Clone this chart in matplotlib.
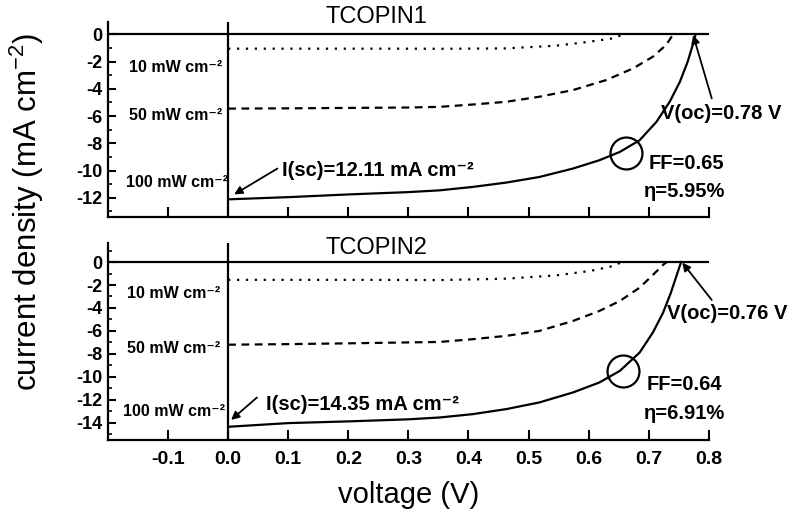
import matplotlib
matplotlib.use('Agg')
import matplotlib.pyplot as plt
import numpy as np

plt.rcParams['font.family'] = ['Liberation Sans', 'DejaVu Sans']
plt.rcParams['mathtext.fontset'] = 'custom'
plt.rcParams['mathtext.rm'] = 'Liberation Sans'
plt.rcParams['mathtext.bf'] = 'Liberation Sans:bold'
plt.rcParams['mathtext.default'] = 'regular'

# TCOPIN1 J-V curves (V in volts, J in mA cm^-2)
v1_10 = [0.0, 0.1, 0.2, 0.3, 0.352, 0.463, 0.546, 0.602, 0.641, 0.657]
j1_10 = [-1.05, -1.05, -1.05, -1.05, -1.06, -1.03, -0.83, -0.54, -0.29, -0.02]
v1_50 = [0.0, 0.1, 0.2, 0.3, 0.352, 0.407, 0.463, 0.518, 0.574, 0.629, 0.674, 0.707, 0.729, 0.74]
j1_50 = [-5.45, -5.43, -5.4, -5.37, -5.32, -5.15, -4.95, -4.58, -4.09, -3.36, -2.5, -1.64, -0.78, -0.05]
v1_100 = [0.0, 0.1, 0.2, 0.3, 0.352, 0.407, 0.463, 0.518, 0.574, 0.618, 0.652, 0.685,
          0.713, 0.735, 0.752, 0.765, 0.775, 0.778]
j1_100 = [-12.11, -11.95, -11.75, -11.58, -11.45, -11.2, -10.88, -10.47, -9.85, -9.24, -8.63, -7.77,
          -6.42, -4.95, -3.48, -2.0, -0.54, 0.0]

# TCOPIN2 J-V curves
v2_10 = [0.0, 0.1, 0.2, 0.3, 0.352, 0.463, 0.546, 0.602, 0.641, 0.655]
j2_10 = [-1.55, -1.55, -1.55, -1.56, -1.57, -1.45, -1.16, -0.78, -0.35, 0.0]
v2_50 = [0.0, 0.1, 0.2, 0.3, 0.352, 0.407, 0.463, 0.518, 0.574, 0.618, 0.652, 0.685, 0.708, 0.725, 0.73]
j2_50 = [-7.2, -7.15, -7.08, -7.0, -6.96, -6.72, -6.43, -6.0, -5.13, -4.26, -3.39, -2.23, -1.07, -0.2, 0.0]
v2_100 = [0.0, 0.1, 0.2, 0.3, 0.352, 0.407, 0.463, 0.518, 0.574, 0.618, 0.652, 0.685,
          0.707, 0.724, 0.737, 0.748, 0.754]
j2_100 = [-14.35, -14.03, -13.88, -13.7, -13.54, -13.25, -12.81, -12.23, -11.36, -10.49, -9.48, -7.88,
          -6.14, -4.41, -2.67, -0.93, 0.0]

# maximum power point markers
mpp1 = (0.662, -8.7)
mpp2 = (0.657, -9.48)

x_ticks = [-0.1, 0.0, 0.1, 0.2, 0.3, 0.4, 0.5, 0.6, 0.7, 0.8]
y_ticks1 = [0, -2, -4, -6, -8, -10, -12]
y_ticks2 = [0, -2, -4, -6, -8, -10, -12, -14]

fig = plt.figure(figsize=(7.91, 5.14), dpi=100)
ax1 = fig.add_axes([0.1365, 0.578, 0.7595, 0.379])
ax2 = fig.add_axes([0.1365, 0.144, 0.7595, 0.383])


def style_axis(ax, yticks, ylim, show_xlabels):
    ax.set_xlim(-0.2, 0.8)
    ax.set_ylim(*ylim)
    ax.spines['top'].set_visible(False)
    ax.spines['right'].set_visible(False)
    for s in ('left', 'bottom'):
        ax.spines[s].set_linewidth(1.6)
    ax.set_xticks(x_ticks)
    ax.set_xticklabels(['%.1f' % t for t in x_ticks])
    ax.set_yticks(yticks)
    ax.set_yticklabels(['%d' % t for t in yticks])
    ax.set_yticks(np.arange(ylim[0] // 1 + 1, ylim[1], 1), minor=True)
    ax.tick_params(axis='x', direction='in', length=7, width=1.5, labelsize=14,
                   labelbottom=show_xlabels, pad=8)
    ax.tick_params(axis='y', which='major', direction='in', length=6, width=1.5,
                   labelsize=13, pad=4)
    ax.tick_params(axis='y', which='minor', direction='in', length=3, width=1.2)
    for lab in ax.get_xticklabels() + ax.get_yticklabels():
        lab.set_fontweight('bold')
    ax.axhline(0, color='black', lw=1.6)
    ax.axvline(0, color='black', lw=1.6)


def draw_panel(ax, curves, mpp):
    (v10, j10), (v50, j50), (v100, j100) = curves
    ax.plot(v10, j10, color='black', lw=1.6, linestyle=(0, (1, 3)))
    ax.plot(v50, j50, color='black', lw=1.6, linestyle=(0, (3.5, 2.5)))
    ax.plot(v100, j100, color='black', lw=1.6)
    ax.plot([mpp[0]], [mpp[1]], marker='o', markersize=23, markerfacecolor='none',
            markeredgecolor='black', markeredgewidth=1.6)


arrow = dict(arrowstyle='-|>', color='black', lw=1.3, mutation_scale=12, shrinkA=0, shrinkB=0)
lbl = dict(fontsize=11.5, fontweight='bold', va='center', ha='left')
ann = dict(fontsize=14.5, fontweight='bold', va='center', ha='left')

# top panel
style_axis(ax1, y_ticks1, (-13.4, 0.9), False)
draw_panel(ax1, [(v1_10, j1_10), (v1_50, j1_50), (v1_100, j1_100)], mpp1)
ax1.text(0.247, 1.25, 'TCOPIN1', fontsize=17, ha='center', va='center', clip_on=False)
ax1.text(-0.165, -2.4, '10 mW cm⁻²', **lbl)
ax1.text(-0.165, -5.95, '50 mW cm⁻²', **lbl)
ax1.text(-0.17, -10.9, '100 mW cm⁻²', **lbl)
ax1.annotate('', xy=(0.01, -11.75), xytext=(0.082, -9.85), arrowprops=arrow)
ax1.text(0.09, -10.0, 'I(sc)=12.11 mA cm⁻²', **ann)
ax1.annotate('', xy=(0.774, -0.05), xytext=(0.805, -4.7), arrowprops=arrow,
             annotation_clip=False)
ax1.text(0.72, -5.8, 'V(oc)=0.78 V', clip_on=False, **ann)
ax1.text(0.70, -9.5, 'FF=0.65', **ann)
ax1.text(0.693, -11.5, 'η=5.95%', **ann)

# bottom panel
style_axis(ax2, y_ticks2, (-15.5, 1.65), True)
draw_panel(ax2, [(v2_10, j2_10), (v2_50, j2_50), (v2_100, j2_100)], mpp2)
ax2.text(0.247, 1.2, 'TCOPIN2', fontsize=17, ha='center', va='center', clip_on=False)
ax2.text(-0.168, -2.7, '10 mW cm⁻²', **lbl)
ax2.text(-0.168, -7.5, '50 mW cm⁻²', **lbl)
ax2.text(-0.175, -13.0, '100 mW cm⁻²', **lbl)
ax2.annotate('', xy=(0.005, -13.75), xytext=(0.048, -11.8), arrowprops=arrow)
ax2.text(0.063, -12.4, 'I(sc)=14.35 mA cm⁻²', **ann)
ax2.annotate('', xy=(0.756, -0.05), xytext=(0.805, -3.3), arrowprops=arrow,
             annotation_clip=False)
ax2.text(0.73, -4.45, 'V(oc)=0.76 V', clip_on=False, **ann)
ax2.text(0.697, -10.7, 'FF=0.64', **ann)
ax2.text(0.693, -13.2, 'η=6.91%', **ann)

fig.text(0.516, 0.036, 'voltage (V)', fontsize=21, ha='center', va='center')
fig.text(0.034, 0.587, 'current density (mA cm$^{-2}$)', fontsize=22.5, rotation=90,
         ha='center', va='center')

fig.savefig('out.png', dpi=100)
